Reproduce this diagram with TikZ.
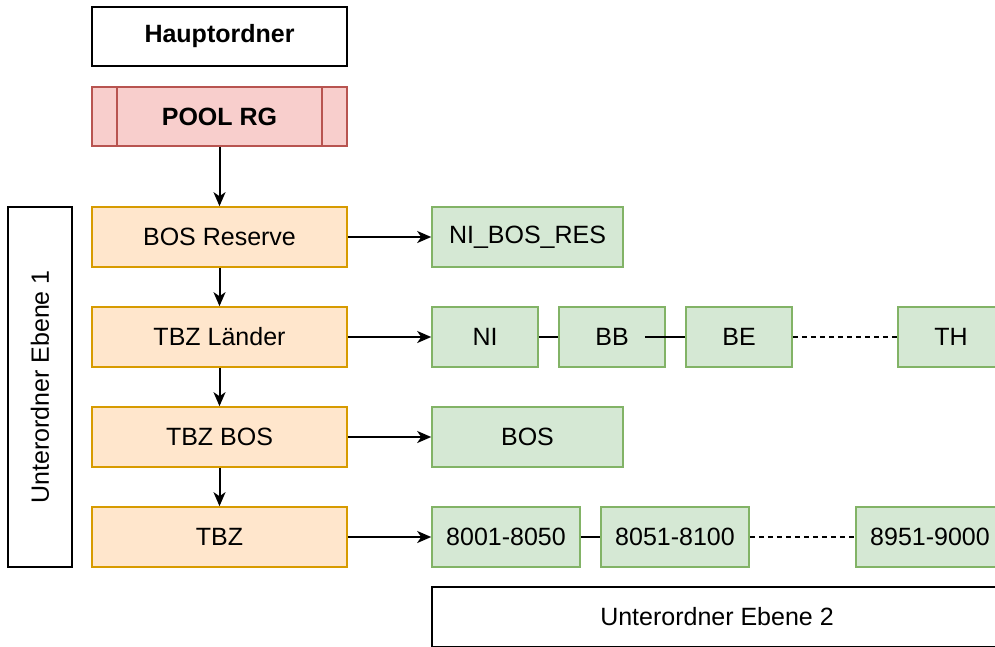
\documentclass[tikz,border=0pt]{standalone}
\usepackage{fontspec}
\setmainfont{Liberation Sans}
\usepackage{tikz}
\usetikzlibrary{arrows.meta}
\usetikzlibrary{positioning}
\definecolor{poolfill}{HTML}{F8CECC}
\definecolor{pooldraw}{HTML}{B85450}
\definecolor{ebfill}{HTML}{FFE6CC}
\definecolor{ebdraw}{HTML}{D79B00}
\definecolor{subfill}{HTML}{D5E8D4}
\definecolor{subdraw}{HTML}{82B366}

\begin{document}
\begin{tikzpicture}[
x=0.5pt, y=-0.5pt,
every node/.style={font=\fontsize{12.5}{15}\selectfont, inner sep=0pt},
PlainBox/.style={draw=black, fill=white, line width=0.8pt},
PoolBox/.style={draw=pooldraw, fill=poolfill, line width=0.8pt, minimum width=127.5pt, minimum height=29.5pt},
LevelOne/.style={draw=ebdraw, fill=ebfill, line width=0.8pt, minimum width=127.5pt, minimum height=30pt},
LevelTwo/.style={draw=subdraw, fill=subfill, line width=0.8pt, minimum height=30pt},
Links/.style={draw=black, line width=1pt, -{Stealth[length=7pt, width=6pt, inset=2pt]}},
Joins/.style={draw=black, line width=1pt},
Gaps/.style={draw=black, line width=0.7pt, dash pattern=on 2.5pt off 2pt}
]
\useasboundingbox (0,0) rectangle (995,647);

% left column
\node[PlainBox, minimum width=127.5pt, minimum height=29.5pt, font=\fontsize{12.5}{15}\selectfont\bfseries] (haupt) at (219.5,36.5) {Hauptordner};
\node[PoolBox, font=\fontsize{12.5}{15}\selectfont\bfseries] (pool) at (219.5,116.5) {POOL RG};
\draw[pooldraw, line width=0.8pt] ([xshift=13pt]pool.north west) -- ([xshift=13pt]pool.south west);
\draw[pooldraw, line width=0.8pt] ([xshift=-13pt]pool.north east) -- ([xshift=-13pt]pool.south east);

\node[PlainBox, minimum width=32pt, minimum height=180pt] (ebene1) at (40,387) {};
\node[rotate=90] (ebene1text) at (ebene1.center) {Unterordner Ebene 1};

\node[LevelOne] (bosres) at (219.5,237) {BOS Reserve};
\node[LevelOne] (tbzl) at (219.5,337) {TBZ Länder};
\node[LevelOne] (tbzbos) at (219.5,437) {TBZ BOS};
\node[LevelOne] (tbz) at (219.5,537) {TBZ};

\draw[Links] (pool) -- (bosres);
\draw[Links] (bosres) -- (tbzl);
\draw[Links] (tbzl) -- (tbzbos);
\draw[Links] (tbzbos) -- (tbz);

% right side
\node[LevelTwo, minimum width=95.5pt] (nires) at (527.5,237) {NI\_BOS\_RES};

\node[LevelTwo, minimum width=53pt] (ni) at (485,337) {NI};
\node[LevelTwo, minimum width=53pt] (bb) at (612,337) {BB};
\node[LevelTwo, minimum width=53pt] (be) at (739,337) {BE};
\node[LevelTwo, minimum width=53pt] (th) at (951,337) {TH};

\node[LevelTwo, minimum width=95.5pt] (bos) at (527.5,437) {BOS};

\node[LevelTwo, minimum width=74pt] (n8001) at (506,537) {8001-8050};
\node[LevelTwo, minimum width=74pt] (n8051) at (675,537) {8051-8100};
\node[LevelTwo, minimum width=74pt] (n8951) at (930,537) {8951-9000};

\node[PlainBox, minimum width=285pt, minimum height=30pt] (ebene2) at (717,617) {Unterordner Ebene 2};

\draw[Links] (bosres) -- (nires);
\draw[Links] (tbzl) -- (ni);
\draw[Links] (tbzbos) -- (bos);
\draw[Links] (tbz) -- (n8001);

\draw[Joins] (ni) -- (bb);
\draw[Joins, shorten <=-10.5pt] (bb) -- (be);
\draw[Gaps] (be) -- (th);
\draw[Joins] (n8001) -- (n8051);
\draw[Gaps] (n8051) -- (n8951);

\end{tikzpicture}
\end{document}
